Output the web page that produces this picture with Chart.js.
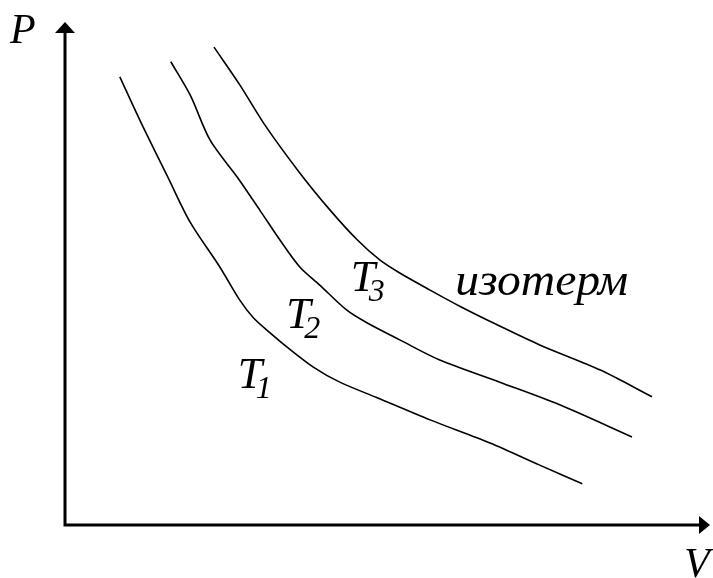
<!DOCTYPE html>
<html>
<head>
<meta charset="utf-8">
<script src="https://cdn.jsdelivr.net/npm/chart.js@4"></script>
<style>
  body { margin: 0; background: #fff; }
  #wrap { width: 713px; height: 578px; }
</style>
</head>
<body>
<div id="wrap"><canvas id="isotherms" width="713" height="578"></canvas></div>
<script>
// V and P in arbitrary units (axes run 0..10)
var t1V = [0.85, 1.16, 1.60, 1.94, 2.40, 2.71, 2.92, 3.18, 3.44, 3.85, 4.26, 4.84, 5.66, 6.59, 7.36, 8.02]
var t1P = [8.91, 8.05, 6.90, 6.02, 5.13, 4.47, 4.12, 3.82, 3.54, 3.14, 2.84, 2.53, 2.09, 1.63, 1.19, 0.82]

var t2V = [1.64, 1.94, 2.25, 2.68, 3.02, 3.33, 3.64, 3.95, 4.37, 4.68, 5.19, 5.81, 6.74, 7.67, 8.79]
var t2P = [9.21, 8.55, 7.65, 6.90, 6.26, 5.67, 5.13, 4.77, 4.27, 4.02, 3.68, 3.28, 2.84, 2.39, 1.75]

var t3V = [2.31, 2.71, 3.10, 3.64, 4.11, 4.53, 4.88, 5.19, 5.66, 6.12, 6.70, 7.36, 8.30, 9.10]
var t3P = [9.50, 8.75, 7.95, 7.00, 6.26, 5.67, 5.27, 5.01, 4.67, 4.35, 3.98, 3.58, 3.08, 2.55]

var curveNames = ['T1', 'T2', 'T3']

function pts(vs, ps) {
    return vs.map(function(v, i){ return {x: v, y: ps[i]} })
}

// axes with arrows + text labels, drawn by hand like the textbook figure
var sketch = {
    id: 'sketch',
    afterDraw: function(chart) {
        var c = chart.ctx
        var a = chart.chartArea
        var x0 = a.left, y0 = a.bottom
        c.save()
        c.fillStyle = '#000'
        c.strokeStyle = '#000'
        c.lineWidth = 3
        c.beginPath()
        c.moveTo(x0, y0); c.lineTo(x0, a.top + 8)
        c.moveTo(x0 - 1.5, y0); c.lineTo(a.right - 8, y0)
        c.stroke()
        // arrow heads
        c.beginPath()
        c.moveTo(x0, a.top); c.lineTo(x0 - 10, a.top + 11); c.lineTo(x0 + 10, a.top + 11); c.closePath()
        c.fill()
        c.beginPath()
        c.moveTo(a.right, y0); c.lineTo(a.right - 11, y0 - 9); c.lineTo(a.right - 11, y0 + 9); c.closePath()
        c.fill()

        c.textBaseline = 'alphabetic'
        c.font = 'italic 42px "Liberation Serif"'
        c.fillText('P', 10, 43)
        c.fillText('V', 684, 577)

        var xs = chart.scales.x, ys = chart.scales.y
        function tLabel(sub, v, p) {
            var px = xs.getPixelForValue(v), py = ys.getPixelForValue(p)
            c.font = 'italic 44px "Liberation Serif"'
            c.fillText('T', px, py)
            c.font = 'italic 32px "Liberation Serif"'
            c.fillText(sub, px + 18, py + 10)
        }
        tLabel('1', 2.68, 2.72)
        tLabel('2', 3.43, 3.91)
        tLabel('3', 4.43, 4.65)

        // the word is wide in the original, so stretch it to ~173px
        var word = 'изотерм'
        c.font = 'italic 46px "Liberation Serif"'
        var w = c.measureText(word).width
        var wx = xs.getPixelForValue(6.05), wy = ys.getPixelForValue(4.57)
        c.translate(wx, wy)
        c.scale(173 / w, 1)
        c.fillText(word, 0, 0)
        c.restore()
    }
}

var ctx = document.getElementById('isotherms')
var chartLine = new Chart(ctx, {
    type: 'scatter',
    data: {
        datasets: [
            { label: curveNames[0], data: pts(t1V, t1P) },
            { label: curveNames[1], data: pts(t2V, t2P) },
            { label: curveNames[2], data: pts(t3V, t3P) }
        ].map(function(d){
            d.showLine = true
            d.borderColor = '#000'
            d.borderWidth = 1.6
            d.pointRadius = 0
            d.tension = 0.3
            d.fill = false
            return d
        })
    },
    options: {
        responsive: false,
        animation: false,
        layout: { padding: { left: 65, top: 22, right: 3, bottom: 53 } },
        plugins: { legend: { display: false }, tooltip: { enabled: false } },
        scales: {
            x: { type: 'linear', min: 0, max: 10, display: false },
            y: { type: 'linear', min: 0, max: 10, display: false }
        }
    },
    plugins: [sketch]
})
</script>
</body>
</html>
